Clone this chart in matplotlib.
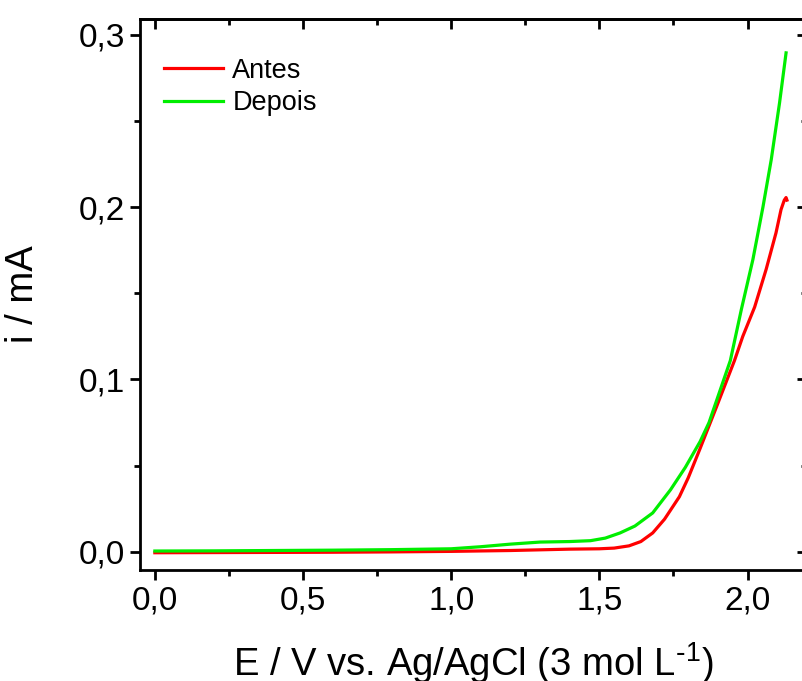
import matplotlib
matplotlib.use("Agg")
import matplotlib.pyplot as plt
from matplotlib.ticker import MultipleLocator, FuncFormatter

plt.rcParams["font.family"] = ["Liberation Sans", "DejaVu Sans"]
plt.rcParams["mathtext.default"] = "regular"

# --------------------------------------------------
# Data
# --------------------------------------------------
E_antes = [0.0, 0.2, 0.4, 0.6, 0.8, 1.0, 1.2, 1.3, 1.4, 1.5, 1.55, 1.6,
           1.64, 1.68, 1.72, 1.77, 1.8, 1.84, 1.895, 1.956, 1.984, 2.024,
           2.063, 2.096, 2.113, 2.124, 2.13, 2.133]
i_antes = [-0.0005, -0.0004, -0.0003, -0.0002, 0.0, 0.0003, 0.0008, 0.0012,
           0.0016, 0.0018, 0.0022, 0.0035, 0.006, 0.011, 0.019, 0.032, 0.043,
           0.06, 0.084, 0.111, 0.125, 0.142, 0.164, 0.185, 0.1985, 0.204,
           0.2055, 0.204]

E_depois = [0.0, 0.2, 0.4, 0.6, 0.8, 1.0, 1.1, 1.2, 1.3, 1.4, 1.47, 1.52,
            1.57, 1.62, 1.68, 1.74, 1.79, 1.84, 1.87, 1.916, 1.942, 1.979,
            2.018, 2.052, 2.08, 2.108, 2.13]
i_depois = [0.0005, 0.0006, 0.0008, 0.001, 0.0013, 0.0018, 0.003, 0.0045,
            0.0057, 0.006, 0.0065, 0.008, 0.011, 0.015, 0.0226, 0.036, 0.049,
            0.064, 0.075, 0.098, 0.111, 0.1405, 0.1695, 0.2, 0.2275, 0.2604,
            0.2894]

series_labels = ["Antes", "Depois"]

# --------------------------------------------------
# Plot
# --------------------------------------------------
fig = plt.figure(figsize=(8.02, 6.81), dpi=100)
ax = fig.add_axes([0.1746, 0.163, 0.8314, 0.809])

ax.plot(E_antes, i_antes, color="#ff0000", lw=2.3, label=series_labels[0])
ax.plot(E_depois, i_depois, color="#00ee00", lw=2.3, label=series_labels[1])

ax.set_xlim(-0.05, 2.2)
ax.set_ylim(-0.0105, 0.309)

ax.xaxis.set_major_locator(MultipleLocator(0.5))
ax.xaxis.set_minor_locator(MultipleLocator(0.25))
ax.yaxis.set_major_locator(MultipleLocator(0.1))
ax.yaxis.set_minor_locator(MultipleLocator(0.05))

comma = FuncFormatter(lambda v, pos: f"{v:.1f}".replace(".", ","))
ax.xaxis.set_major_formatter(comma)
ax.yaxis.set_major_formatter(comma)

for s in ax.spines.values():
    s.set_linewidth(2.0)

ax.tick_params(which="both", direction="out", width=2.0, labelsize=24,
               top=False, right=False)
ax.tick_params(which="major", length=7, pad=4)
ax.tick_params(which="minor", length=4.3)

# inward ticks on top and right
ax_t = ax.secondary_xaxis("top")
ax_t.xaxis.set_major_locator(MultipleLocator(0.5))
ax_t.xaxis.set_minor_locator(MultipleLocator(0.25))
ax_t.tick_params(which="both", direction="in", width=2.0, labeltop=False)
ax_t.tick_params(which="major", length=7)
ax_t.tick_params(which="minor", length=4.3)
ax_t.spines["top"].set_linewidth(2.0)

ax_r = ax.secondary_yaxis("right")
ax_r.yaxis.set_major_locator(MultipleLocator(0.1))
ax_r.yaxis.set_minor_locator(MultipleLocator(0.05))
ax_r.tick_params(which="both", direction="in", width=2.0, labelright=False)
ax_r.tick_params(which="major", length=7)
ax_r.tick_params(which="minor", length=4.3)

ax.set_xlabel(r"E / V vs. Ag/AgCl (3 mol L$^{\text{-}1}$)", fontsize=27.5,
              labelpad=17)
ax.set_ylabel("i / mA", fontsize=27.5, labelpad=27)

ax.legend(loc="upper left", frameon=False, fontsize=19.5, handlelength=2.2,
          handletextpad=0.33, labelspacing=0.25, borderaxespad=0.0,
          bbox_to_anchor=(0.0195, 0.9495))

fig.savefig("out.png", dpi=100)
